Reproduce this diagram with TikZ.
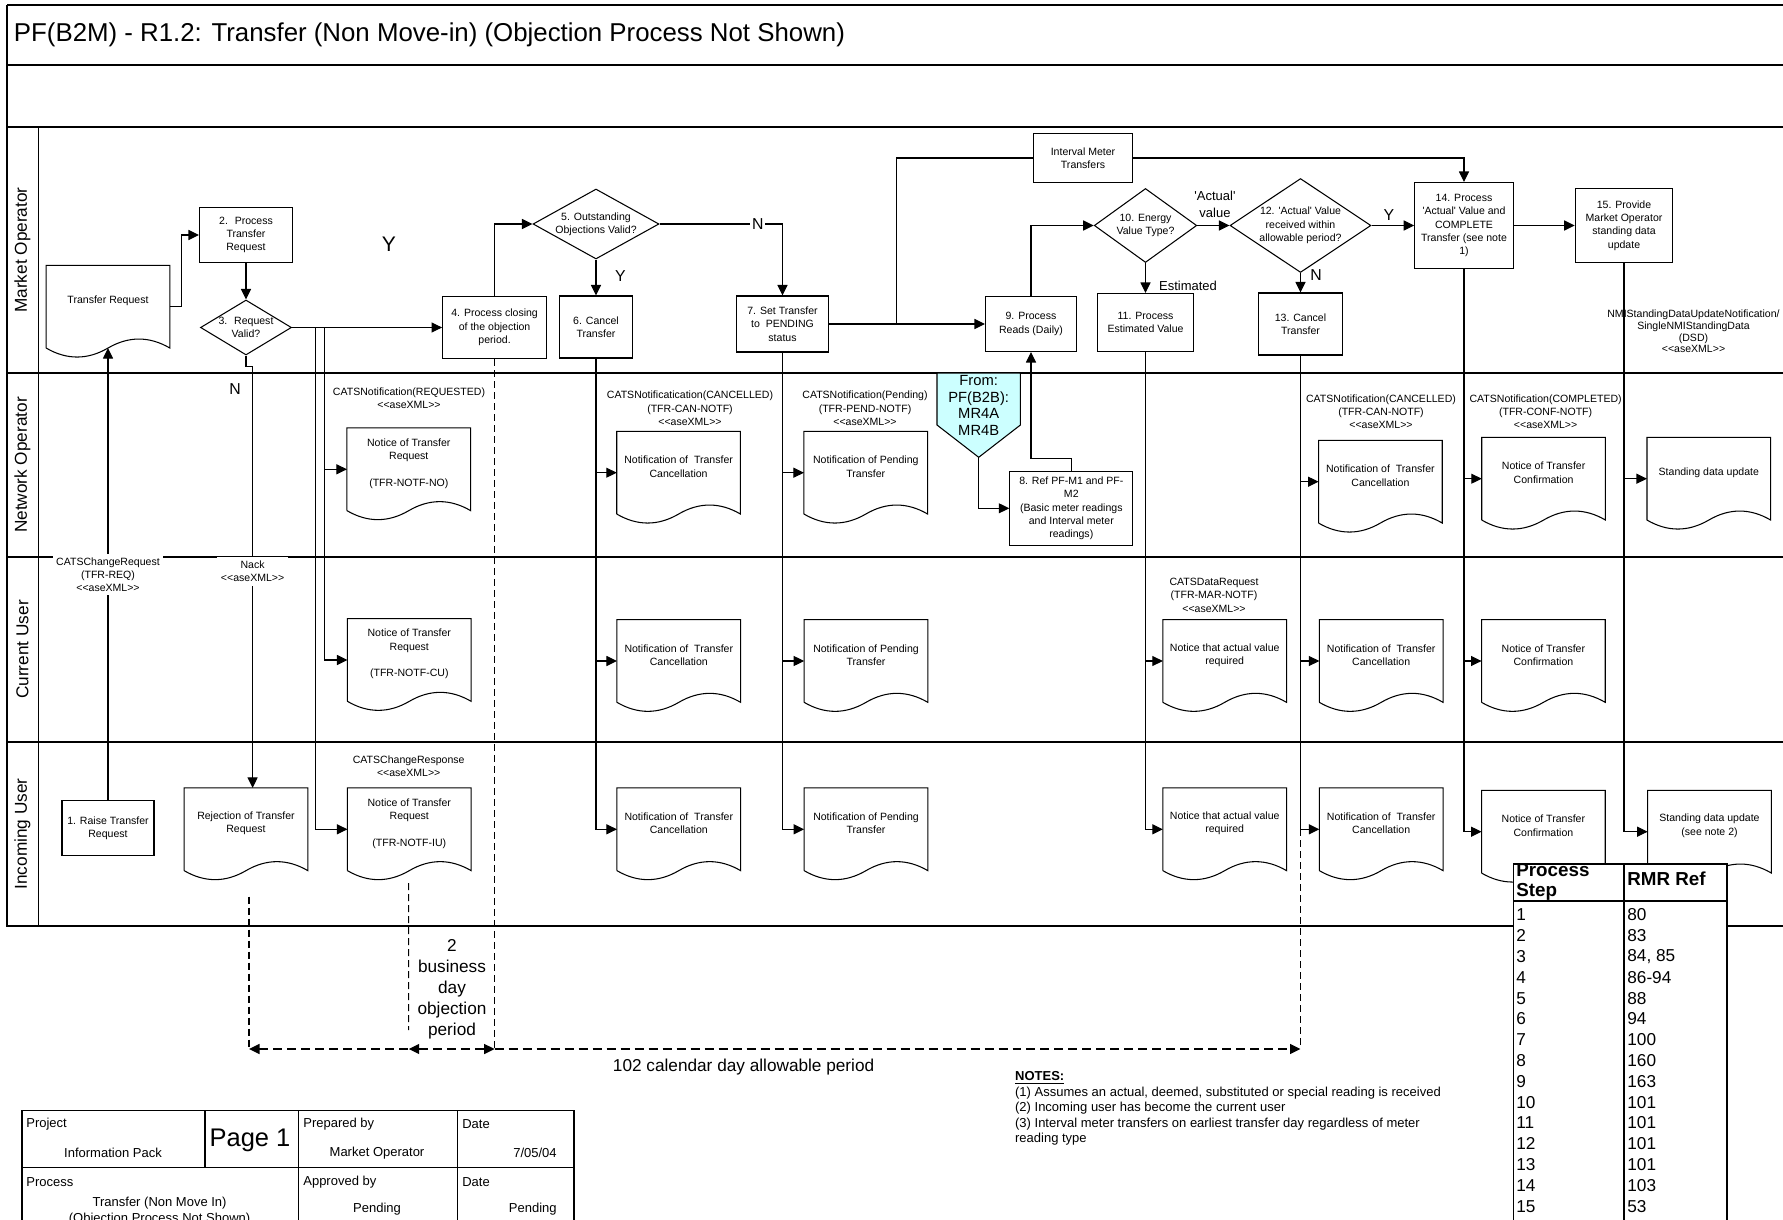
\documentclass[tikz,border=0pt]{standalone}
\usepackage{fontspec}
\setmainfont{Liberation Sans}
\usetikzlibrary{arrows.meta,shapes.geometric,calc}

\definecolor{offpage}{RGB}{204,255,255}
\newcommand{\fs}{\fontsize{6}{7.6}\selectfont}
\newcommand{\fm}{\fontsize{7.4}{9}\selectfont}
\newcommand{\fl}{\fontsize{9.8}{12}\selectfont}
\newcommand{\ax}{<\kern0pt<aseXML>\kern0pt>}
\newcommand{\sq}{\textquotesingle}

\tikzset{
  proc/.style={draw, fill=white, line width=0.6pt, align=center, inner sep=1pt, font=\fs},
  decision/.style={diamond, draw, fill=white, line width=0.6pt, align=center, inner sep=0pt, font=\fs},
  doc/.style={inner sep=0pt, minimum width=2.46cm, minimum height=1.64cm},
  doctext/.style={align=center, inner sep=0pt, font=\fs},
  docline/.style={line width=0.6pt},
  msg/.style={align=center, inner sep=1pt, font=\fs},
  msgw/.style={msg, fill=white, inner sep=2pt},
  flow/.style={line width=0.6pt, ->},
  link/.style={line width=0.6pt},
  guide/.style={line width=0.6pt, dash pattern=on 0.14cm off 0.08cm},
  period/.style={line width=0.8pt, dash pattern=on 0.18cm off 0.1cm},
  frame/.style={line width=1pt},
  yn/.style={inner sep=1pt, font=\fontsize{9}{10}\selectfont},
  lanename/.style={rotate=90, font=\fl},
  tab/.style={line width=0.8pt},
  tabcell/.style={anchor=west, inner sep=0pt, font=\fontsize{9.8}{11}\selectfont},
  tbtext/.style={inner sep=0pt, font=\fm},
}

% document symbol with a wavy bottom, text sits a little high
\newcommand{\docnode}[3]{%
  \node[doc] (#1) at (#2) {};
  \node[doctext] (#1-t) at ([yshift=0.12cm]#1.center) {#3};
  \draw[docline] (#1.south west) -- (#1.north west) -- (#1.north east) -- (#1.south east)
    .. controls ($(#1.south east)+(-20.5,-12)$) and ($(#1.south)+(20.5,-12)$) .. (#1.south)
    .. controls ($(#1.south)+(-20.5,12)$) and ($(#1.south west)+(20.5,12)$) .. (#1.south west);
}

\begin{document}
\begin{tikzpicture}[x=0.02cm, y=-0.02cm, >={Triangle[length=2.1mm,width=2mm]}]
\useasboundingbox (0,0) rectangle (1783,1220);
\fill[white] (0,0) rectangle (1783,1220);

% frame and swim lanes
\draw[frame] (7,5) -- (1790,5);
\draw[frame] (7,5) -- (7,926) -- (1790,926);
\draw[frame] (7,65) -- (1790,65);
\draw[frame] (7,127) -- (1790,127);
\foreach \y in {373,557,742} \draw[frame] (7,\y) -- (1790,\y);
\draw[link] (38.5,127) -- (38.5,926);

\node[anchor=west, inner sep=0pt, font=\fontsize{14.7}{17}\selectfont] (title) at (13.6,35.2)
  {PF(B2M) - R1.2: Transfer (Non Move-in) (Objection Process Not Shown)};

\node[lanename] (lmo) at (22.5,250) {Market Operator};
\node[lanename] (lno) at (22.5,465) {Network Operator};
\node[lanename] (lcu) at (22.5,649.5) {Current User};
\node[lanename] (liu) at (22.5,834) {Incoming User};

% market operator
\docnode{dTR}{108,306.7}{Transfer Request}
\node[proc, minimum width=1.86cm, minimum height=1.1cm] (b2) at (246,235) {2.~ Process\\Transfer\\Request};
\node[decision, minimum width=1.82cm, minimum height=1.1cm, shape aspect=1.65] (d3) at (246,327.5) {3.~ Request\\Valid?};
\node[proc, minimum width=2.08cm, minimum height=1.24cm] (b4) at (494.6,327.5) {4. Process closing\\of the objection\\period.};
\node[decision, minimum width=2.52cm, minimum height=1.4cm, shape aspect=1.8] (d5) at (596,224) {5. Outstanding\\Objections Valid?};
\node[proc, minimum width=1.47cm, minimum height=1.24cm] (b6) at (596,327) {6. Cancel\\Transfer};
\node[proc, minimum width=1.84cm, minimum height=1.12cm] (b7) at (782.5,324) {7. Set Transfer\\to~ PENDING\\status};
\node[proc, minimum width=1.82cm, minimum height=1.1cm] (b9) at (1031,324) {9. Process\\Reads (Daily)};
\node[proc, minimum width=1.97cm, minimum height=0.98cm] (imt) at (1083,158) {Interval Meter\\Transfers};
\node[decision, minimum width=2.05cm, minimum height=1.48cm, shape aspect=1.39] (d10) at (1145.5,225.5) {10. Energy\\Value Type?};
\node[proc, minimum width=1.92cm, minimum height=1.16cm] (b11) at (1145.5,322.5) {11. Process\\Estimated Value};
\node[decision, minimum width=2.82cm, minimum height=1.88cm, shape aspect=1.5] (d12) at (1300.5,225.5) {12. \sq Actual\sq{} Value\\received within\\allowable period?};
\node[proc, minimum width=1.68cm, minimum height=1.24cm] (b13) at (1300.5,324) {13. Cancel\\Transfer};
\node[proc, minimum width=1.97cm, minimum height=1.72cm] (b14) at (1464,225.5) {14. Process\\\sq Actual\sq{} Value and\\COMPLETE\\Transfer (see note\\1)};
\node[proc, minimum width=1.95cm, minimum height=1.48cm] (b15) at (1624,225.5) {15. Provide\\Market Operator\\standing data\\update};

% network operator
\docnode{dNO1}{408.8,469.3}{Notice of Transfer\\Request\\[7.6pt](TFR-NOTF-NO)}
\docnode{dNO2}{678.6,472.7}{Notification of~ Transfer\\Cancellation}
\docnode{dNO3}{865.8,472.7}{Notification of Pending\\Transfer}
\draw[link, fill=offpage] (937,373) -- (1020.4,373) -- (1020.4,425) -- (978.7,457.3) -- (937,425) -- cycle;
\coordinate (optip) at (978.7,457.3);
\node[align=center, inner sep=0pt, font=\fontsize{8.4}{9.5}\selectfont] (op) at (978.7,405.5) {From:\\PF(B2B):\\MR4A\\MR4B};
\node[proc, minimum width=2.46cm, minimum height=1.47cm] (b8) at (1071.3,508.3) {8. Ref PF-M1 and PF-\\M2\\(Basic meter readings\\and Interval meter\\readings)};
\docnode{dNO4}{1380.4,481.7}{Notification of~ Transfer\\Cancellation}
\docnode{dNO5}{1543.6,478.7}{Notice of Transfer\\Confirmation}
\docnode{dNO6}{1708.8,478.7}{Standing data update}

% current user
\docnode{dCU1}{409.3,660}{Notice of Transfer\\Request\\[7.6pt](TFR-NOTF-CU)}
\docnode{dCU2}{678.8,661}{Notification of~ Transfer\\Cancellation}
\docnode{dCU3}{866,661}{Notification of Pending\\Transfer}
\docnode{dCU4}{1224.7,661}{Notice that actual value\\required}
\docnode{dCU5}{1381.2,661}{Notification of~ Transfer\\Cancellation}
\docnode{dCU6}{1543.4,661}{Notice of Transfer\\Confirmation}

% incoming user
\node[proc, minimum width=1.84cm, minimum height=1.1cm] (b1) at (108,828.3) {1. Raise Transfer\\Request};
\docnode{dIU0}{246,829.3}{Rejection of Transfer\\Request}
\docnode{dIU1}{409.3,829.3}{Notice of Transfer\\Request\\[7.6pt](TFR-NOTF-IU)}
\docnode{dIU2}{678.8,829.3}{Notification of~ Transfer\\Cancellation}
\docnode{dIU3}{866,829.3}{Notification of Pending\\Transfer}
\docnode{dIU4}{1224.7,829.3}{Notice that actual value\\required}
\docnode{dIU5}{1381.2,829.3}{Notification of~ Transfer\\Cancellation}
\docnode{dIU6}{1543.4,831.7}{Notice of Transfer\\Confirmation}
\docnode{dIU7}{1709.5,831.7}{Standing data update\\(see note 2)}

% flow in the market operator lane
\draw[flow] (dTR.east) -- ++(12,0) |- (b2.west);
\draw[flow] (b2) -- (d3);
\draw[flow] (d3) -- (b4);
\draw[flow] (b4.north) |- (d5.west);
\draw[flow] (d5.east) -| node[yn, pos=0.4, fill=white] (n5) {N} (b7.north);
\draw[flow] (d5) -- (b6);
\draw[flow] (b7) -- (b9);
\draw[link] (b7.east) ++(67.5,0) |- (imt.west);
\draw[flow] (imt.east) -| (b14.north);
\draw[flow] (b9.north) |- (d10.west);
\draw[flow] (d10) -- (d12);
\draw[flow] (d10) -- (b11);
\draw[flow] (d12) -- (b14);
\draw[flow] (d12) -- (b13);
\draw[flow] (b14) -- (b15);
\draw[flow] (b8.north) -- ++(0,-12.4) -| (b9.south);
\draw[flow] (optip) |- (b8.west);

% messages down to the participants
\draw[flow] (b1.north) -- (dTR.south);
\draw[flow] (d3.south) -- ++(0,11) -| ($(dIU0.north)+(6.6,0)$);
\draw[flow] (d3.east) -- ++(32.5,0) |- (dNO1.west);
\draw[flow] (d3.east) -- ++(32.5,0) |- (dCU1.west);
\draw[flow] (d3.east) -- ++(23.5,0) |- (dIU1.west);
\foreach \d in {dNO2,dCU2,dIU2} \draw[flow] (b6.south) |- (\d.west);
\foreach \d in {dNO3,dCU3,dIU3} \draw[flow] (b7.south) |- (\d.west);
\foreach \d in {dCU4,dIU4} \draw[flow] (b11.south) |- (\d.west);
\foreach \d in {dNO4,dCU5,dIU5} \draw[flow] (b13.south) |- (\d.west);
\foreach \d in {dNO5,dCU6,dIU6} \draw[flow] (b14.south) |- (\d.west);
\foreach \d in {dNO6,dIU7} \draw[flow] (b15.south) |- (\d.west);

% decision labels
\node[yn, font=\fontsize{12}{14}\selectfont] (y3) at (389,244.5) {Y};
\node[yn] (n3) at (235,389) {N};
\node[yn] (y5) at (620.5,276) {Y};
\node[align=center, inner sep=0pt, font=\fontsize{7.4}{9.7}\selectfont] (act10) at (1215,204.5) {\sq Actual\sq\\value};
\node[inner sep=0pt, font=\fm] (est10) at (1188,285.7) {Estimated};
\node[yn] (y12) at (1389,215) {Y};
\node[yn] (n12) at (1316,275) {N};

% message labels
\node[msgw] (mreq) at (108,574.7) {CATSChangeRequest\\(TFR-REQ)\\\ax};
\node[msgw] (mnack) at (252.6,571.5) {Nack\\\ax};
\node[msg] (mno1) at (409,398.3) {CATSNotification(REQUESTED)\\\ax};
\node[msg] (mno2) at (690,408.3) {CATSNotificatication(CANCELLED)\\(TFR-CAN-NOTF)\\\ax};
\node[msg] (mno3) at (865,408.3) {CATSNotification(Pending)\\(TFR-PEND-NOTF)\\\ax};
\node[msg] (mno4) at (1381,411.7) {CATSNotification(CANCELLED)\\(TFR-CAN-NOTF)\\\ax};
\node[msg] (mno5) at (1545.6,411.7) {CATSNotification(COMPLETED)\\(TFR-CONF-NOTF)\\\ax};
\node[msg] (mcu4) at (1214,595.3) {CATSDataRequest\\(TFR-MAR-NOTF)\\\ax};
\node[msg] (miu1) at (408.7,766) {CATSChangeResponse\\\ax};
\node[msg, font=\fontsize{6}{6.6}\selectfont] (mnmi) at (1693.5,331.5) {NMIStandingDataUpdateNotification/\\SingleNMIStandingData\\(DSD)\\\ax};

% objection and allowable periods
\coordinate (p1) at (249,1049);
\coordinate (p2) at (408.7,1049);
\coordinate (p3) at (494.6,1049);
\coordinate (p4) at (1300.5,1049);
\draw[guide] (b4.south) -- (p3);
\draw[guide] (b13.south |- dIU5.west) -- (p4);
\draw[guide] ($(dIU0.south)+(3,26)$) -- (p1);
\draw[guide] ($(dIU1.south)+(-0.6,12.5)$) -- ($(p2)+(0,-19)$);
\draw[period, <-] (p1) -- (p2);
\draw[period, <->] (p2) -- (p3);
\draw[period, ->] (p3) -- (p4);
\node[align=center, inner sep=0pt, font=\fl] (obj) at (452,989) {2\\business\\day\\objection\\period};
\node[inner sep=0pt, font=\fl] (allow) at (743.6,1066.7) {102 calendar day allowable period};

% notes
\node[anchor=north west, align=left, inner sep=0pt, font=\fontsize{7.4}{8.9}\selectfont] (notes) at (1014.8,1071)
  {\underline{\textbf{NOTES:}}\\
   (1) Assumes an actual, deemed, substituted or special reading is received\\
   (2) Incoming user has become the current user\\
   (3) Interval meter transfers on earliest transfer day regardless of meter\\
   reading type};

% RMR reference table
\draw[tab, fill=white] (1513.2,864) rectangle (1726.8,1228);
\draw[tab] (1623.8,864) -- (1623.8,1228);
\draw[tab, line width=1.2pt] (1513.2,901) -- (1726.8,901);
\node[anchor=west, align=left, inner sep=0pt, font=\fontsize{10.7}{11.4}\selectfont\bfseries] (hstep) at (1516,881.7) {Process\\Step};
\node[anchor=west, inner sep=0pt, font=\fontsize{10.7}{12}\selectfont\bfseries] (hrmr) at (1627,878.3) {RMR Ref};
\foreach \s/\r [count=\i] in {1/80, 2/83, 3/{84, 85}, 4/86-94, 5/88, 6/94, 7/100, 8/160, 9/163, 10/101, 11/101, 12/101, 13/101, 14/103, 15/53} {
  \node[tabcell] (step\i) at (1516,{915+20.8*(\i-1)}) {\s};
  \node[tabcell] (rmr\i) at (1627,{915+20.8*(\i-1)}) {\r};
}

% title block
\draw[tab] (21.8,1110.7) rectangle (574,1228);
\draw[tab] (21.8,1167.3) -- (574,1167.3);
\draw[link] (205,1110.7) -- (205,1167.3);
\draw[link] (298.5,1110.7) -- (298.5,1228);
\draw[link] (457.5,1110.7) -- (457.5,1228);
\node[tbtext, anchor=west] (tbproj) at (26,1124) {Project};
\node[tbtext] (tbinfo) at (113,1153.3) {Information Pack};
\node[inner sep=0pt, font=\fontsize{14.5}{16}\selectfont] (tbpage) at (250,1140) {Page 1};
\node[tbtext, anchor=west] (tbprep) at (303,1124) {Prepared by};
\node[tbtext] (tbmo) at (377,1153.3) {Market Operator};
\node[tbtext, anchor=west] (tbdate) at (462,1124) {Date};
\node[tbtext, anchor=east] (tbdval) at (557,1153.3) {7/05/04};
\node[tbtext, anchor=west] (tbproc) at (26,1181.7) {Process};
\node[tbtext, align=center, anchor=north] (tbtrans) at (159.6,1197) {Transfer (Non Move In)\\(Objection Process Not Shown)};
\node[tbtext, anchor=west] (tbappr) at (303,1181.7) {Approved by};
\node[tbtext] (tbpend) at (377,1209.3) {Pending};
\node[tbtext, anchor=west] (tbdate2) at (462,1181.7) {Date};
\node[tbtext, anchor=east] (tbpend2) at (557,1209.3) {Pending};
\end{tikzpicture}
\end{document}
